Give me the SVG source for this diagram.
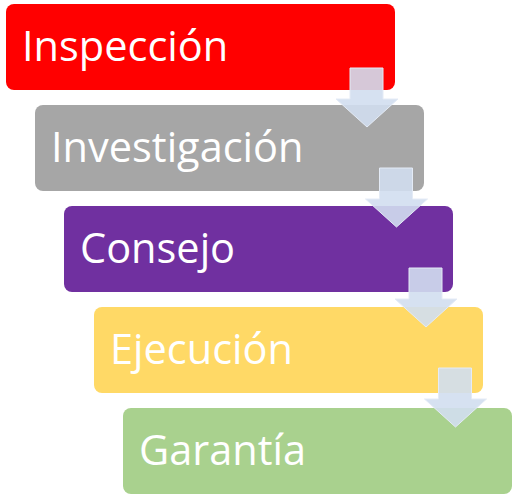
<svg xmlns="http://www.w3.org/2000/svg" width="515" height="500" viewBox="0 0 515 500">
<style>
.box{stroke:none}
.lbl{font-family:"Open Sans","Noto Sans",sans-serif;font-size:41.5px;fill:#ffffff}
.arr{fill:#D2DEF0;fill-opacity:0.9;stroke:#E4EBF6;stroke-width:1}
</style>
<rect width="515" height="500" fill="#ffffff"/>
<g id="n1"><rect class="box" x="6" y="4" width="389" height="86" rx="8" fill="#FF0000"/><text class="lbl" x="22" y="61">Inspección</text></g>
<g id="n2"><rect class="box" x="35" y="105" width="389" height="86" rx="8" fill="#A6A6A6"/><text class="lbl" x="51" y="162">Investigación</text></g>
<g id="n3"><rect class="box" x="64" y="206" width="389" height="86" rx="8" fill="#7030A0"/><text class="lbl" x="80" y="263">Consejo</text></g>
<g id="n4"><rect class="box" x="94" y="307" width="389" height="86" rx="8" fill="#FFD966"/><text class="lbl" x="110" y="364">Ejecución</text></g>
<g id="n5"><rect class="box" x="123" y="408" width="389" height="86" rx="8" fill="#A9D18E"/><text class="lbl" x="139" y="465">Garantía</text></g>
<g id="connectors">
<path class="arr" d="M350,68 H383 V99 H398 L367,127 L336,99 H350 Z"/>
<path class="arr" d="M379.5,168 H412.5 V199 H427.5 L396.5,227 L365.5,199 H379.5 Z"/>
<path class="arr" d="M409,268 H442 V299 H457 L426,327 L395,299 H409 Z"/>
<path class="arr" d="M438.5,368 H471.5 V399 H486.5 L455.5,427 L424.5,399 H438.5 Z"/>
</g>
</svg>
